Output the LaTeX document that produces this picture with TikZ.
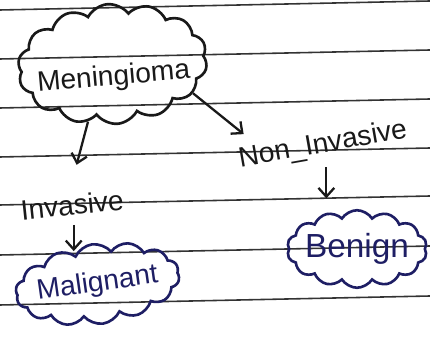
\documentclass[tikz,border=0pt]{standalone}
\usepackage{fontspec}
\setmainfont{Liberation Sans}
\usetikzlibrary{shapes.symbols,arrows.meta}
\definecolor{navy}{RGB}{30,30,100}
\definecolor{pencil}{RGB}{25,25,25}

\begin{document}
\begin{tikzpicture}[
    bubble/.style={cloud, draw, line width=1.5pt, cloud puffs=14, cloud puff arc=115, cloud ignores aspect, inner xsep=-0.7cm, inner ysep=-4pt},
    word/.style={font=\fontsize{16}{18}\selectfont},
    arr/.style={-{Straight Barb[length=5pt,width=9pt]}, line width=1.3pt, pencil},
    rule/.style={black!80, line width=0.9pt}
]
    \useasboundingbox (0,0) rectangle (8.6,6.76);

    % ruled paper
    \foreach \y in {6.56,5.58,4.60,3.62,2.66,1.66,0.66}
        \draw[rule] (0,\y) -- (8.6,\y+0.18);

    % root
    \node[bubble, word, pencil, text height=26pt, text depth=2pt,
          minimum width=3.8cm, minimum height=2.4cm, rotate=5] (men) at (2.25,5.48) {Meningioma};

    % the two kinds
    \node[word, pencil, rotate=10] (noninv) at (6.46,3.86) {Non\_Invasive};
    \node[word, pencil, rotate=6] (inv) at (1.44,2.66) {Invasive};

    % outcomes
    \node[bubble, navy, minimum width=2.8cm, minimum height=1.55cm, font=\fontsize{19}{21}\selectfont] (benign) at (7.14,1.78) {Benign};
    \node[bubble, word, navy, minimum width=3.3cm, minimum height=1.6cm, rotate=8] (malig) at (1.95,1.08) {Malignant};

    \draw[arr, shorten >=4pt] (men.-25) -- (noninv.165);
    \draw[arr, shorten >=14pt] (men.-118) -- (inv.north);
    \draw[arr, shorten <=2pt, shorten >=6pt] (noninv.south) -- (noninv.south |- benign.north);
    \draw[arr, shorten <=2pt] (inv.south) -- (inv.south |- malig.130);
\end{tikzpicture}
\end{document}
